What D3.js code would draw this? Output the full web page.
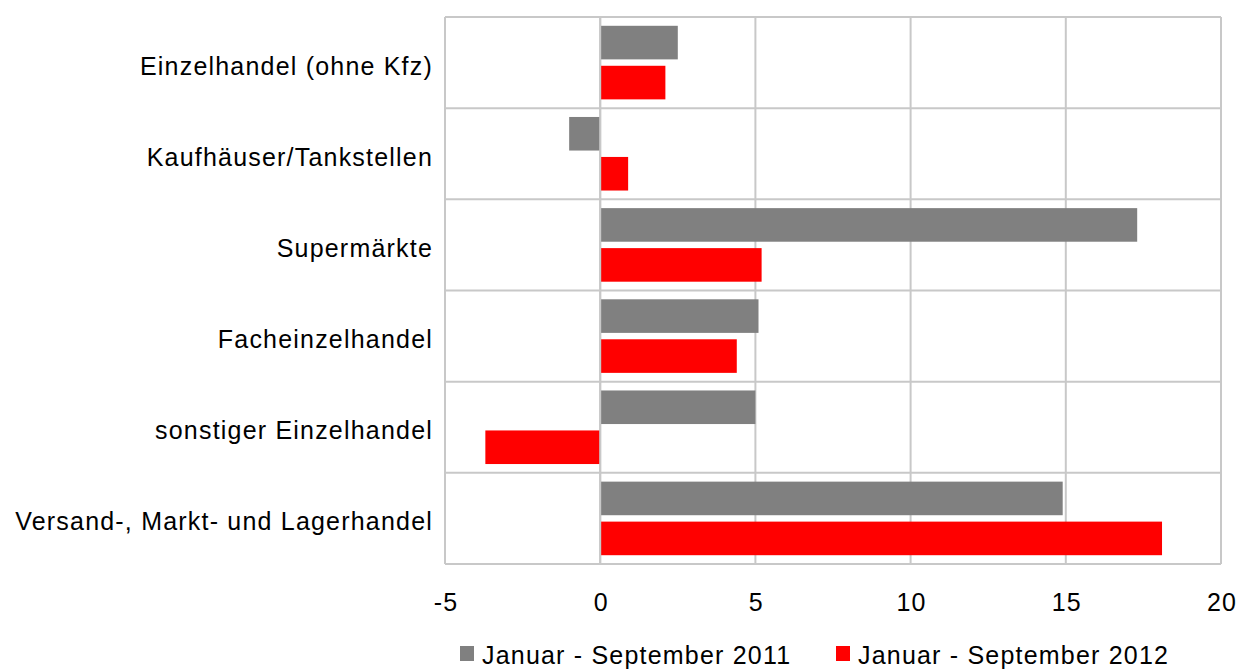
<!DOCTYPE html>
<html>
<head>
<meta charset="utf-8">
<script src="https://cdn.jsdelivr.net/npm/d3@7"></script>
<style>
  body { margin: 0; background: #fff; }
  svg text { font-family: "Liberation Sans", Arial, sans-serif; fill: #000; font-size: 25px; letter-spacing: 1.2px; }
</style>
</head>
<body>
<div class="container"></div>
<script>
const w = 1250;
const h = 669;

const categories = [
    'Einzelhandel (ohne Kfz)',
    'Kaufhäuser/Tankstellen',
    'Supermärkte',
    'Facheinzelhandel',
    'sonstiger Einzelhandel',
    'Versand-, Markt- und Lagerhandel'
];
const series2011 = [2.5, -1.0, 17.3, 5.1, 5.0, 14.9];
const series2012 = [2.1, 0.9, 5.2, 4.4, -3.7, 18.1];
const seriesNames = ['Januar - September 2011', 'Januar - September 2012'];
const seriesColors = ['#808080', '#ff0000'];
const xTicks = [-5, 0, 5, 10, 15, 20];

const plotLeft = 445;
const plotRight = 1221;
const plotTop = 17;
const plotBottom = 564;

const svg = d3.select('.container')
    .append('svg')
    .attr('width', w)
    .attr('height', h);

const xScale = d3.scaleLinear()
    .domain([-5, 20])
    .range([plotLeft, plotRight]);

const yScale = d3.scaleBand()
    .domain(categories)
    .range([plotTop, plotBottom]);

const inner = d3.scaleBand()
    .domain([0, 1])
    .range([0, yScale.bandwidth()])
    .paddingInner(0.16)
    .paddingOuter(0.22);

// grid
svg.append('g')
    .selectAll('line')
    .data(xTicks)
    .enter()
    .append('line')
    .attr('x1', d => xScale(d))
    .attr('x2', d => xScale(d))
    .attr('y1', plotTop)
    .attr('y2', plotBottom)
    .attr('stroke', '#c8c8c8')
    .attr('stroke-width', 2);

svg.append('g')
    .selectAll('line')
    .data(d3.range(categories.length + 1))
    .enter()
    .append('line')
    .attr('x1', plotLeft)
    .attr('x2', plotRight)
    .attr('y1', i => plotTop + i * yScale.step())
    .attr('y2', i => plotTop + i * yScale.step())
    .attr('stroke', '#c8c8c8')
    .attr('stroke-width', 2);

// bars
[series2011, series2012].forEach((values, s) => {
    svg.append('g')
        .selectAll('rect')
        .data(values)
        .enter()
        .append('rect')
        .attr('x', d => xScale(Math.min(0, d)))
        .attr('width', d => Math.abs(xScale(d) - xScale(0)))
        .attr('y', (d, i) => yScale(categories[i]) + inner(s))
        .attr('height', inner.bandwidth())
        .attr('fill', seriesColors[s]);
});

// zero line over bars
svg.append('line')
    .attr('x1', xScale(0))
    .attr('x2', xScale(0))
    .attr('y1', plotTop)
    .attr('y2', plotBottom)
    .attr('stroke', '#c8c8c8')
    .attr('stroke-width', 2);

// category labels
svg.append('g')
    .selectAll('text')
    .data(categories)
    .enter()
    .append('text')
    .attr('x', 433)
    .attr('y', d => yScale(d) + yScale.bandwidth() / 2 + 12)
    .attr('text-anchor', 'end')
    .text(d => d);

// x tick labels
svg.append('g')
    .selectAll('text')
    .data(xTicks)
    .enter()
    .append('text')
    .attr('x', d => xScale(d) + 1)
    .attr('y', 611)
    .attr('text-anchor', 'middle')
    .text(d => d);

// legend
const legendX = [460, 836];
const legend = svg.append('g');
seriesNames.forEach((name, i) => {
    legend.append('rect')
        .attr('x', legendX[i])
        .attr('y', 646)
        .attr('width', 14)
        .attr('height', 15)
        .attr('fill', seriesColors[i]);
    legend.append('text')
        .attr('x', legendX[i] + 22)
        .attr('y', 664)
        .text(name);
});
</script>
</body>
</html>
